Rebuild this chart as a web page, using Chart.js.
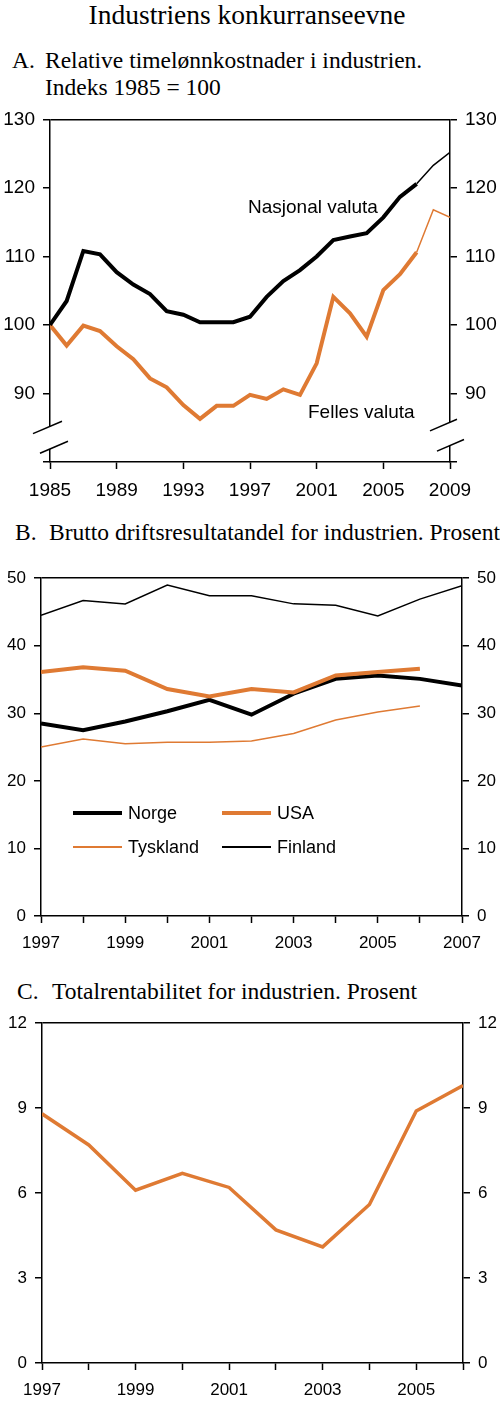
<!DOCTYPE html>
<html>
<head>
<meta charset="utf-8">
<title>Industriens konkurranseevne</title>
<script src="https://cdn.jsdelivr.net/npm/chart.js@4.4.1/dist/chart.umd.min.js"></script>
<style>
  body { margin: 0; background: #fff; }
  #page { position: relative; width: 500px; height: 1403px; overflow: hidden; }
  .serif { position: absolute; font-family: 'Liberation Serif', 'Times New Roman', serif; line-height: 1; white-space: nowrap; color: #000; }
  .sans { position: absolute; font-family: 'Liberation Sans', Arial, sans-serif; line-height: 1; white-space: nowrap; color: #000; }
  canvas { position: absolute; left: 0; }
  .swatch { position: absolute; width: 49px; }
</style>
</head>
<body>
<div id="page">
  <div class="serif" style="left:0;width:494px;text-align:center;top:1px;font-size:27.5px">Industriens konkurranseevne</div>

  <div class="serif" style="left:12px;top:49px;font-size:23.5px">A.</div>
  <div class="serif" style="left:45px;top:49px;font-size:23.5px">Relative timelønnkostnader i industrien.</div>
  <div class="serif" style="left:45px;top:76px;font-size:23.5px">Indeks 1985 = 100</div>
  <canvas id="chartA" width="500" height="405" style="top:100px"></canvas>
  <div class="sans" style="left:248px;top:197px;font-size:19px">Nasjonal valuta</div>
  <div class="sans" style="left:308px;top:402px;font-size:19px">Felles valuta</div>

  <div class="serif" style="left:15px;top:521px;font-size:23.5px">B.</div>
  <div class="serif" style="left:49px;top:521px;font-size:23.5px">Brutto driftsresultatandel for industrien. Prosent</div>
  <canvas id="chartB" width="500" height="396" style="top:560px"></canvas>
  <div id="legendB"></div>

  <div class="serif" style="left:17px;top:980px;font-size:23.5px">C.</div>
  <div class="serif" style="left:52px;top:980px;font-size:23.5px">Totalrentabilitet for industrien. Prosent</div>
  <canvas id="chartC" width="500" height="398" style="top:1005px"></canvas>
</div>

<script>
// A. Relative timelonnkostnader, indeks 1985 = 100
var yearsA = [1985, 1986, 1987, 1988, 1989, 1990, 1991, 1992, 1993, 1994, 1995, 1996, 1997,
              1998, 1999, 2000, 2001, 2002, 2003, 2004, 2005, 2006, 2007, 2008, 2009];
var nasjonalValuta = [100, 103.5, 110.8, 110.3, 107.7, 105.9, 104.5, 102.0, 101.5, 100.4, 100.4, 100.4, 101.2,
                      104.1, 106.4, 108.0, 110.0, 112.4, 112.9, 113.4, 115.7, 118.7, 120.6, 123.3, 125.2];
var fellesValuta = [100, 97.0, 99.9, 99.1, 96.9, 95.0, 92.2, 90.9, 88.3, 86.3, 88.2, 88.2, 89.8,
                    89.2, 90.6, 89.8, 94.4, 104.1, 101.7, 98.3, 105.1, 107.4, 110.6, 116.8, 115.7];
var yLabelsA = [90, 100, 110, 120, 130];
var xLabelsA = [1985, 1989, 1993, 1997, 2001, 2005, 2009];

// B. Brutto driftsresultatandel, prosent
var yearsB = [1997, 1998, 1999, 2000, 2001, 2002, 2003, 2004, 2005, 2006, 2007];
var norge = [28.5, 27.5, 28.8, 30.3, 32.0, 29.8, 32.9, 35.1, 35.6, 35.1, 34.1];
var usa = [36.1, 36.8, 36.3, 33.6, 32.5, 33.6, 33.1, 35.6, 36.1, 36.6];
var tyskland = [25.0, 26.2, 25.5, 25.7, 25.7, 25.9, 27.0, 29.0, 30.2, 31.1];
var finland = [44.5, 46.7, 46.2, 49.0, 47.4, 47.4, 46.2, 46.0, 44.4, 46.9, 48.9];
var yLabelsB = [0, 10, 20, 30, 40, 50];
var xLabelsB = [1997, 1999, 2001, 2003, 2005, 2007];

// C. Totalrentabilitet, prosent
var yearsC = [1997, 1998, 1999, 2000, 2001, 2002, 2003, 2004, 2005, 2006];
var totalrentabilitet = [8.8, 7.7, 6.1, 6.7, 6.2, 4.7, 4.1, 5.6, 8.9, 9.8];
var yLabelsC = [0, 3, 6, 9, 12];
var xLabelsC = [1997, 1999, 2001, 2003, 2005];

var orange = '#DF7A33';
var sansFamily = "'Liberation Sans', Arial, sans-serif";

function points(years, values) {
    return values.map(function(v, i) { return {x: years[i], y: v}; });
}

function yAxis(pos, min, max, step, width, size, labels) {
    return {
        type: 'linear',
        position: pos,
        min: min,
        max: max,
        afterFit: function(s) { s.width = width; },
        border: { color: '#000', width: 1.5 },
        grid: {
            drawOnChartArea: pos === 'left',
            // only the top line is drawn inside, it closes the frame
            color: function(c) { return c.tick && c.tick.value === max ? '#000' : 'rgba(0,0,0,0)'; },
            lineWidth: 1.5,
            tickLength: 7,
            tickColor: '#000',
            tickWidth: 1.5
        },
        ticks: {
            stepSize: step,
            padding: 8,
            color: '#000',
            font: { family: sansFamily, size: size },
            callback: function(v) { return labels.indexOf(v) >= 0 ? String(v) : ''; }
        }
    };
}

function xAxis(min, max, step, height, size, labels) {
    return {
        type: 'linear',
        min: min,
        max: max,
        afterFit: function(s) { s.height = height; },
        border: { color: '#000', width: 1.5 },
        grid: { drawOnChartArea: false, tickLength: 7, tickColor: '#000', tickWidth: 1.5 },
        ticks: {
            stepSize: step,
            autoSkip: false,
            maxRotation: 0,
            padding: 10,
            color: '#000',
            font: { family: sansFamily, size: size },
            callback: function(v) { return labels.indexOf(v) >= 0 ? String(v) : ''; }
        }
    };
}

function baseOptions(padTop, scales) {
    return {
        responsive: false,
        animation: false,
        layout: { padding: { top: padTop, left: 0, right: 0, bottom: 0 } },
        plugins: { legend: { display: false }, tooltip: { enabled: false } },
        elements: { point: { radius: 0 }, line: { tension: 0 } },
        scales: scales
    };
}

// axis break on both y axes (panel A)
var axisBreak = {
    id: 'axisBreak',
    afterDraw: function(chart) {
        var ctx = chart.ctx, area = chart.chartArea, y = chart.scales.y;
        var marks = [
            {x: area.left, v1: 85.2, v2: 81.9, a: [-17, 12], b: [-10, 18]},
            {x: area.right, v1: 85.8, v2: 82.4, a: [-20, 7], b: [-13, 14]}
        ];
        ctx.save();
        marks.forEach(function(m) {
            var p1 = y.getPixelForValue(m.v1), p2 = y.getPixelForValue(m.v2);
            ctx.fillStyle = '#fff';
            ctx.fillRect(m.x - 2, p1, 4, p2 - p1);
            ctx.strokeStyle = '#000';
            ctx.lineWidth = 1.5;
            [[p1, m.a], [p2, m.b]].forEach(function(s) {
                ctx.beginPath();
                ctx.moveTo(m.x + s[1][0], s[0] - s[1][0] * 0.43);
                ctx.lineTo(m.x + s[1][1], s[0] - s[1][1] * 0.43);
                ctx.stroke();
            });
        });
        ctx.restore();
    }
};

function thinFrom(year) {
    return function(c) { return c.p0.parsed.x >= year ? 1.5 : 4; };
}

new Chart(document.getElementById('chartA').getContext('2d'), {
    type: 'line',
    data: {
        datasets: [{
            label: 'Nasjonal valuta',
            data: points(yearsA, nasjonalValuta),
            borderColor: '#000',
            borderWidth: 4,
            segment: { borderWidth: thinFrom(2007) }
        }, {
            label: 'Felles valuta',
            data: points(yearsA, fellesValuta),
            borderColor: orange,
            borderWidth: 4,
            segment: { borderWidth: thinFrom(2007) }
        }]
    },
    options: baseOptions(15, {
        x: xAxis(1985, 2009, 4, 43, 19, xLabelsA),
        y: yAxis('left', 80, 130, 10, 50, 19, yLabelsA),
        y2: yAxis('right', 80, 130, 10, 50, 19, yLabelsA)
    }),
    plugins: [axisBreak]
});

var datasetsB = [{
    label: 'Norge', data: points(yearsB, norge), borderColor: '#000', borderWidth: 4, order: 1
}, {
    label: 'USA', data: points(yearsB, usa), borderColor: orange, borderWidth: 4, order: 0
}, {
    label: 'Tyskland', data: points(yearsB, tyskland), borderColor: orange, borderWidth: 1.5, order: 2
}, {
    label: 'Finland', data: points(yearsB, finland), borderColor: '#000', borderWidth: 1.5, order: 2
}];

new Chart(document.getElementById('chartB').getContext('2d'), {
    type: 'line',
    data: { datasets: datasetsB },
    options: baseOptions(14, {
        x: xAxis(1997, 2007, 1, 40, 17, xLabelsB),
        y: yAxis('left', 0, 50, 10, 41, 17, yLabelsB),
        y2: yAxis('right', 0, 50, 10, 38, 17, yLabelsB)
    })
});

// legend for B, 2 x 2 inside the plot
var legendPos = [[73, 813], [222, 813], [73, 847], [222, 847]];
var legendBox = document.getElementById('legendB');
datasetsB.forEach(function(ds, i) {
    var p = legendPos[i];
    var line = document.createElement('div');
    line.className = 'swatch';
    line.style.left = p[0] + 'px';
    line.style.top = (p[1] - ds.borderWidth / 2) + 'px';
    line.style.height = ds.borderWidth + 'px';
    line.style.background = ds.borderColor;
    legendBox.appendChild(line);
    var txt = document.createElement('div');
    txt.className = 'sans';
    txt.style.left = (p[0] + 55) + 'px';
    txt.style.top = (p[1] - 9) + 'px';
    txt.style.fontSize = '18px';
    txt.textContent = ds.label;
    legendBox.appendChild(txt);
});

new Chart(document.getElementById('chartC').getContext('2d'), {
    type: 'line',
    data: {
        datasets: [{
            label: 'Totalrentabilitet',
            data: points(yearsC, totalrentabilitet),
            borderColor: orange,
            borderWidth: 3.5
        }]
    },
    options: baseOptions(13, {
        x: xAxis(1997, 2006, 1, 40, 17, xLabelsC),
        y: yAxis('left', 0, 12, 3, 42, 17, yLabelsC),
        y2: yAxis('right', 0, 12, 3, 37, 17, yLabelsC)
    })
});
</script>
</body>
</html>
